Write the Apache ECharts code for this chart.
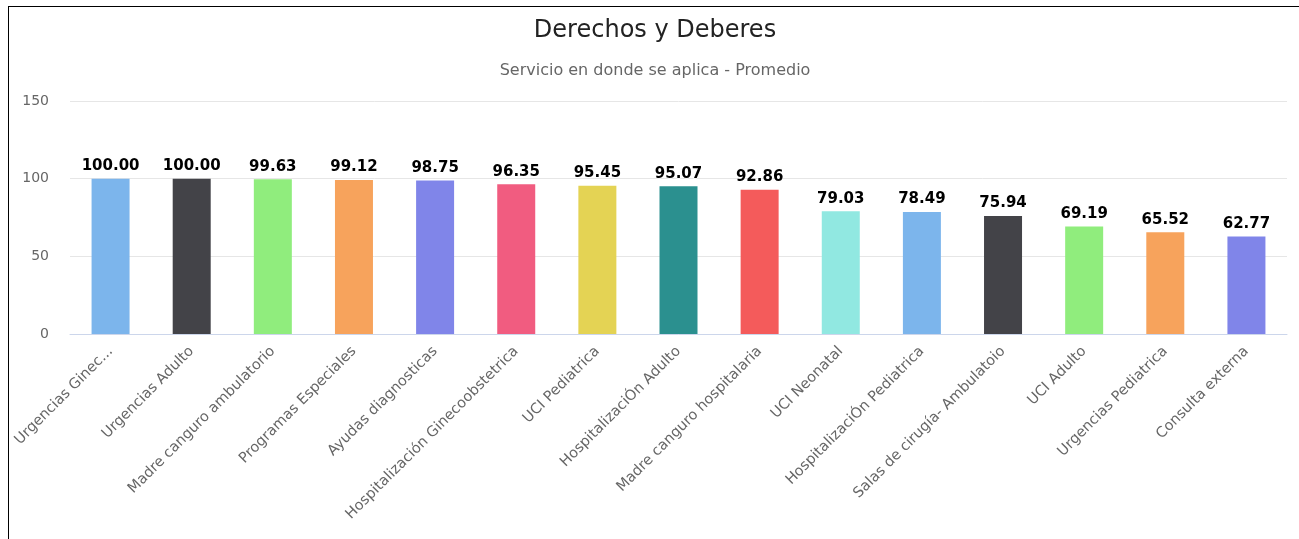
<!DOCTYPE html>
<html>
<head>
<meta charset="utf-8">
<script src="https://cdn.jsdelivr.net/npm/echarts@6/dist/echarts.min.js"></script>
<style>
    html, body { margin: 0; padding: 0; background: #fff; overflow: hidden; }
    #frame { position: absolute; left: 8px; top: 6px; width: 1400px; height: 700px; border-left: 1px solid #000; border-top: 1px solid #000; }
    #main { position: absolute; left: 0; top: 0; width: 1299px; height: 539px; }
</style>
</head>
<body>
<div id="frame"></div>
<div id="main"></div>
<script>
    // servicios
    var categorias = ['Urgencias Ginec...', 'Urgencias Adulto', 'Madre canguro ambulatorio', 'Programas Especiales',
        'Ayudas diagnosticas', 'Hospitalización Ginecoobstetrica', 'UCI Pediatrica', 'HospitalizaciÓn Adulto',
        'Madre canguro hospitalaria', 'UCI Neonatal', 'HospitalizaciÓn Pediatrica', 'Salas de cirugía- Ambulatoio',
        'UCI Adulto', 'Urgencias Pediatrica', 'Consulta externa'];
    var promedios = [100.00, 100.00, 99.63, 99.12, 98.75, 96.35, 95.45, 95.07, 92.86, 79.03, 78.49, 75.94, 69.19, 65.52, 62.77];
    var colores = ['#7cb5ec', '#434348', '#90ed7d', '#f7a35c', '#8085e9', '#f15c80', '#e4d354', '#2b908f', '#f45b5b', '#91e8e1'];
    var ticksY = [0, 50, 100, 150];

    var fuente = '"DejaVu Sans", sans-serif';
    var chart = echarts.init(document.getElementById('main'));

    var datos = [];
    for (var i = 0; i < promedios.length; i++) {
        datos.push({ value: promedios[i], itemStyle: { color: colores[i % colores.length] } });
    }

    var option = {
        backgroundColor: 'transparent',
        animation: false,
        title: [
            {
                text: 'Derechos y Deberes',
                left: 650, top: 14, textAlign: 'center',
                textStyle: { fontFamily: fuente, fontSize: 24, fontWeight: 'normal', color: '#222222' }
            },
            {
                text: 'Servicio en donde se aplica - Promedio',
                left: 650, top: 58, textAlign: 'center',
                textStyle: { fontFamily: fuente, fontSize: 16, fontWeight: 'normal', color: '#666666' }
            }
        ],
        grid: { left: 70, right: 12, top: 101, bottom: 205 },
        xAxis: {
            type: 'category',
            data: categorias,
            axisLine: { lineStyle: { color: '#ccd6eb' } },
            axisTick: { show: false },
            axisLabel: {
                interval: 0, rotate: 45, margin: 15,
                color: '#666666', fontFamily: fuente, fontSize: 14.5
            }
        },
        yAxis: {
            type: 'value',
            min: ticksY[0], max: ticksY[ticksY.length - 1], interval: 50,
            axisLine: { show: false },
            axisTick: { show: false },
            splitLine: { lineStyle: { color: '#e6e6e6' } },
            axisLabel: { margin: 21, color: '#666666', fontFamily: fuente, fontSize: 14 }
        },
        series: [{
            type: 'bar',
            data: datos,
            barWidth: 38,
            label: {
                show: true, position: 'top', distance: 5,
                formatter: function (p) { return p.value.toFixed(2); },
                fontFamily: fuente, fontSize: 15, fontWeight: 'bold', color: '#000000',
                textBorderColor: '#ffffff', textBorderWidth: 1
            }
        }]
    };
    chart.setOption(option);
</script>
</body>
</html>
